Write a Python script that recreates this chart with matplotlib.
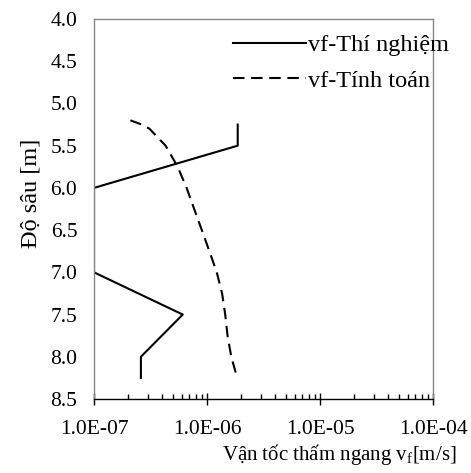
import matplotlib
matplotlib.use("Agg")
import matplotlib.pyplot as plt
from matplotlib.ticker import FixedLocator, FuncFormatter, LogLocator, NullFormatter

plt.rcParams['font.family'] = ['Liberation Serif', 'DejaVu Serif']
plt.rcParams['mathtext.fontset'] = 'custom'
plt.rcParams['mathtext.rm'] = 'Liberation Serif'

# Measured (Thí nghiệm)
depth_tn = [5.25, 5.5, 6.0, 7.0, 7.5, 8.0, 8.25]
vf_tn = [1.87e-6, 1.87e-6, 1.0e-7, 1.0e-7, 6.1e-7, 2.6e-7, 2.6e-7]

# Computed (Tính toán)
depth_tt = [5.2, 5.25, 5.3, 5.5, 5.75, 6.0, 6.25, 6.5, 6.75, 7.0, 7.25, 7.5, 7.75, 8.0, 8.25]
vf_tt = [2.1e-7, 2.65e-7, 3.1e-7, 4.3e-7, 5.5e-7, 6.6e-7, 7.7e-7, 9.0e-7, 1.05e-6,
         1.22e-6, 1.36e-6, 1.45e-6, 1.52e-6, 1.64e-6, 1.85e-6]

y_ticks = [4.0, 4.5, 5.0, 5.5, 6.0, 6.5, 7.0, 7.5, 8.0, 8.5]
x_ticks = [1e-7, 1e-6, 1e-5, 1e-4]

fig = plt.figure(figsize=(4.71, 4.73), dpi=100)
ax = fig.add_axes([94/471, 1-399/473, (433-94)/471, (399-19)/473])

ax.plot(vf_tn, depth_tn, color='black', lw=1.5, label='vf-Thí nghiệm')
ax.plot(vf_tt, depth_tt, color='black', lw=1.5, ls=(0, (5.5, 3.2)), label='vf-Tính toán')

ax.set_xscale('log')
ax.set_xlim(1e-7, 1e-4)
ax.set_ylim(8.5, 4.0)

ax.xaxis.set_major_locator(FixedLocator(x_ticks))
ax.xaxis.set_minor_locator(LogLocator(base=10, subs=range(2, 10)))
ax.xaxis.set_minor_formatter(NullFormatter())
ax.xaxis.set_major_formatter(FuncFormatter(lambda v, p: "%.1E" % v))
ax.yaxis.set_major_locator(FixedLocator(y_ticks))
ax.yaxis.set_major_formatter(FuncFormatter(lambda v, p: "%.1f" % v))

ax.tick_params(axis='x', which='major', direction='inout', length=8, width=1, labelsize=15.5, pad=11)
ax.tick_params(axis='x', which='minor', direction='in', length=3.5, width=1)
ax.tick_params(axis='y', which='major', length=0, labelsize=15.5, pad=12)

for s in ['left', 'top', 'right']:
    ax.spines[s].set_color('#868686')
    ax.spines[s].set_linewidth(1)
ax.spines['bottom'].set_color('black')
ax.spines['bottom'].set_linewidth(1)

ax.set_ylabel('Độ sâu [m]', fontsize=17.5)
ax.yaxis.set_label_coords(-0.155, 0.54)
ax.set_xlabel('Vận tốc thấm ngang v$_\\mathrm{f}$[m/s]', fontsize=15)
ax.xaxis.set_label_coords(0.723, -0.112)

leg = ax.legend(loc='upper left', bbox_to_anchor=(0.41, 0.96), frameon=False,
                fontsize=17.5, handlelength=3.0, handletextpad=0.1, labelspacing=0.55,
                borderaxespad=0, borderpad=0)

fig.savefig('out.png', dpi=100)
